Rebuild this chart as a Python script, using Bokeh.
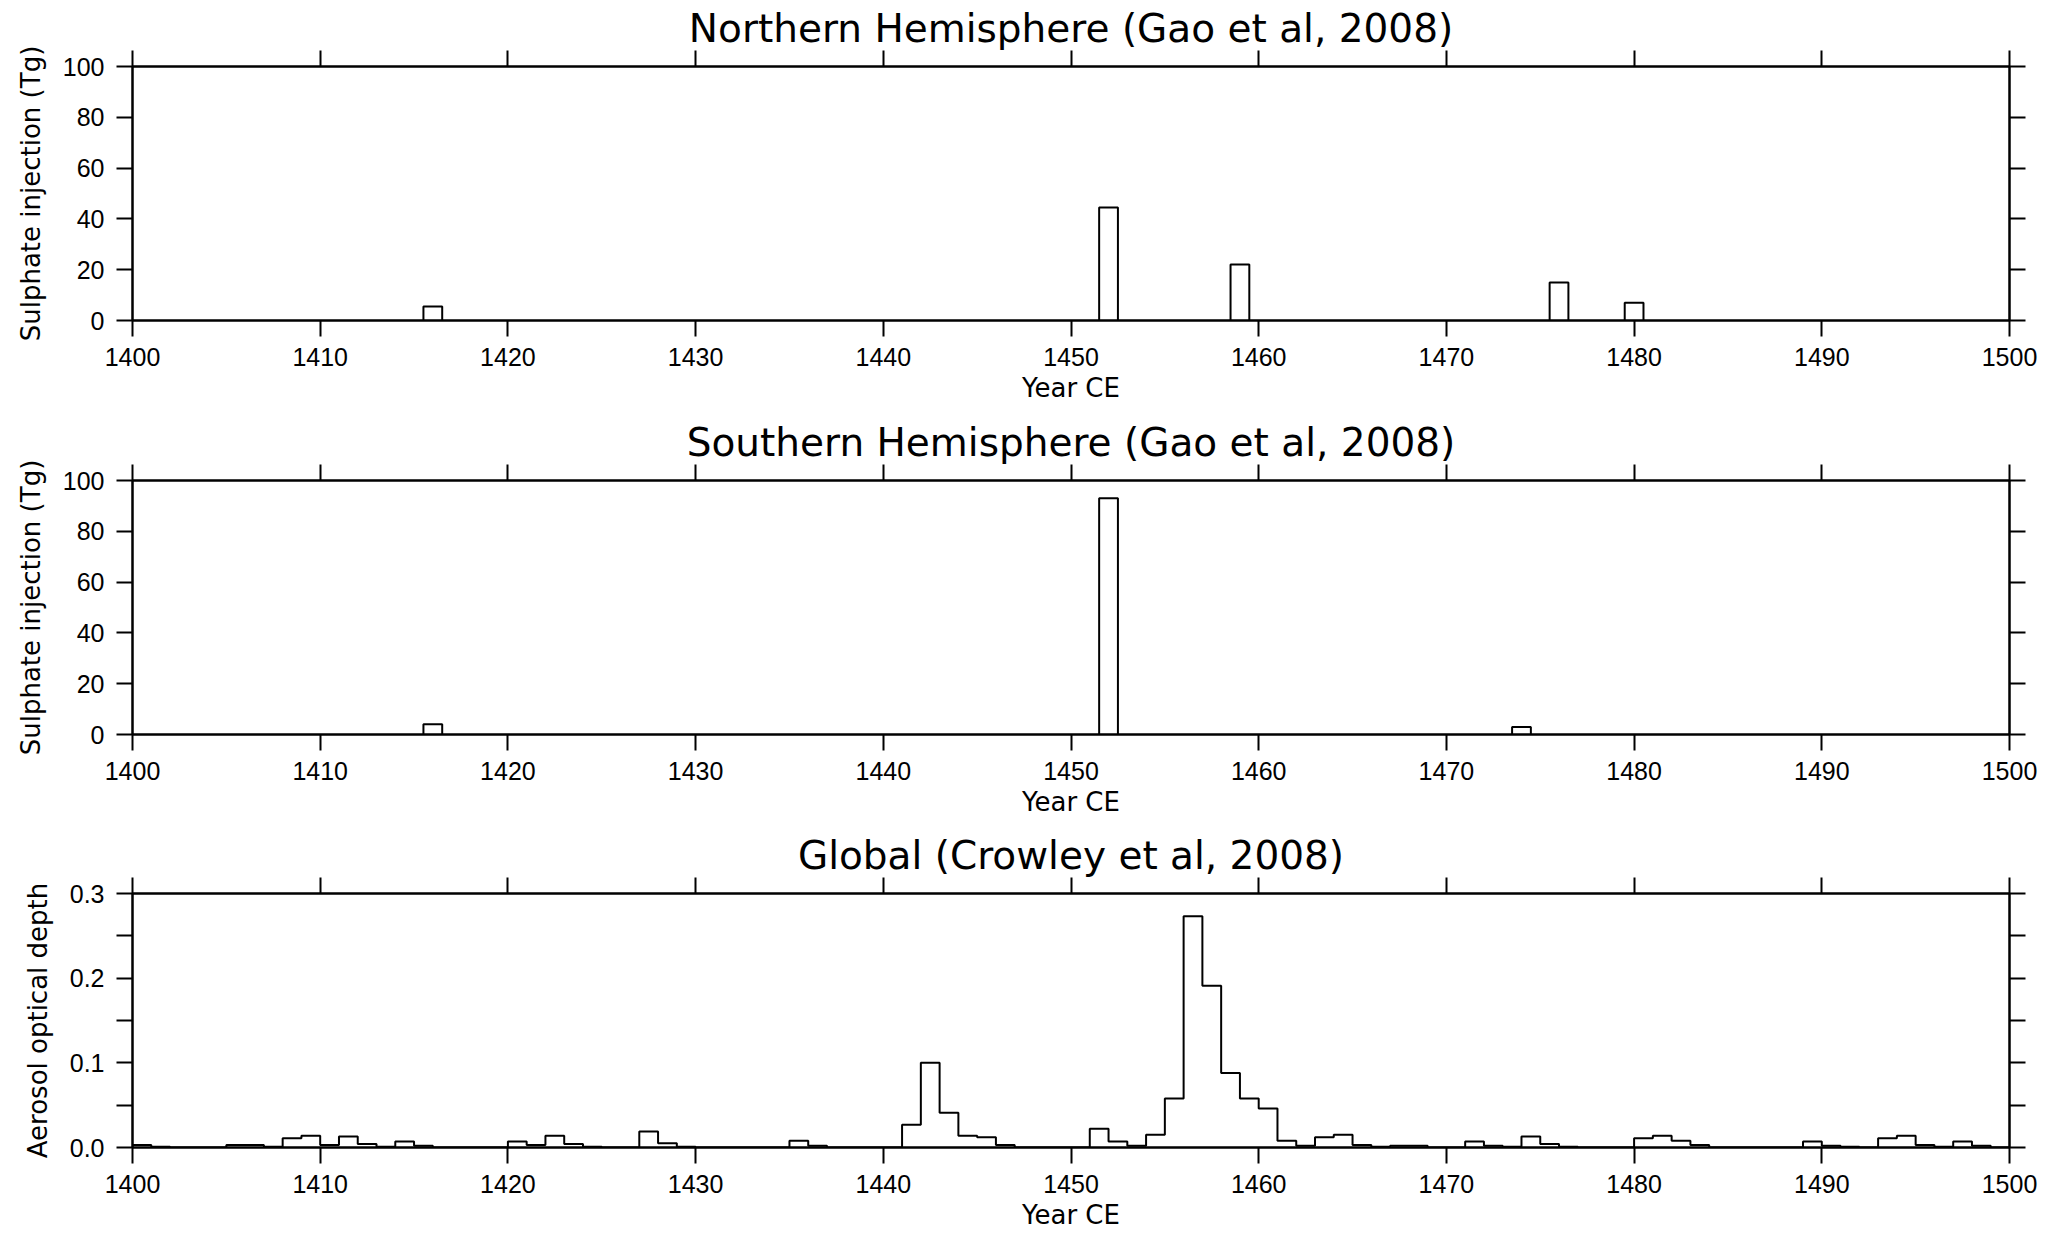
from bokeh.plotting import figure
from bokeh.models import LinearAxis, FixedTicker, Range1d, PrintfTickFormatter, ColumnDataSource
from bokeh.layouts import column
from bokeh.embed import file_html
from bokeh.resources import INLINE

# ---------------- data ----------------
x_ticks = [1400, 1410, 1420, 1430, 1440, 1450, 1460, 1470, 1480, 1490, 1500]

nh_years = [1416, 1452, 1459, 1476, 1480]
nh_sulphate = [5.5, 44.5, 22.0, 15.0, 7.0]

sh_years = [1416, 1452, 1474]
sh_sulphate = [4.0, 93.0, 3.0]

sulphate_ticks = [0, 20, 40, 60, 80, 100]
aod_ticks = [0.0, 0.1, 0.2, 0.3]
aod_minor_ticks = [0.05, 0.15, 0.25]

aod_start_year = 1400
aod_1400s = [0.003, 0.001, 0.0, 0.0, 0.0, 0.003, 0.003, 0.001, 0.011, 0.014]
aod_1410s = [0.003, 0.013, 0.004, 0.001, 0.007, 0.002, 0.0, 0.0, 0.0, 0.0]
aod_1420s = [0.007, 0.003, 0.014, 0.004, 0.001, 0.0, 0.0, 0.019, 0.005, 0.001]
aod_1430s = [0.0, 0.0, 0.0, 0.0, 0.0, 0.008, 0.002, 0.0, 0.0, 0.0]
aod_1440s = [0.0, 0.027, 0.100, 0.041, 0.014, 0.012, 0.003, 0.0, 0.0, 0.0]
aod_1450s = [0.0, 0.022, 0.007, 0.002, 0.015, 0.058, 0.273, 0.191, 0.088, 0.058]
aod_1460s = [0.046, 0.008, 0.002, 0.012, 0.015, 0.003, 0.001, 0.002, 0.002, 0.0]
aod_1470s = [0.0, 0.007, 0.002, 0.001, 0.013, 0.004, 0.001, 0.0, 0.0, 0.0]
aod_1480s = [0.011, 0.014, 0.008, 0.003, 0.0, 0.0, 0.0, 0.0, 0.0, 0.007]
aod_1490s = [0.002, 0.001, 0.0, 0.011, 0.014, 0.003, 0.001, 0.007, 0.002, 0.0]

aod = (aod_1400s + aod_1410s + aod_1420s + aod_1430s + aod_1440s +
       aod_1450s + aod_1460s + aod_1470s + aod_1480s + aod_1490s)
aod_edges = [aod_start_year + i for i in range(len(aod) + 1)]
aod_steps = aod + [aod[-1]]

# ---------------- style ----------------
TICK_FONT = "Liberation Sans"
LABEL_FONT = "DejaVu Sans"
TITLE_FONT = "DejaVu Sans"
LW = 2


def style_axis(ax, show_labels=True):
    ax.axis_line_width = LW
    ax.axis_line_color = "black"
    ax.major_tick_line_width = LW
    ax.major_tick_line_color = "black"
    ax.minor_tick_line_width = LW
    ax.minor_tick_line_color = "black"
    ax.major_tick_out = 16
    ax.major_tick_in = 0
    ax.minor_tick_out = 16
    ax.minor_tick_in = 0
    ax.major_label_text_font = TICK_FONT
    ax.major_label_text_font_size = "25px"
    ax.major_label_text_color = "black"
    ax.axis_label_text_font = LABEL_FONT
    ax.axis_label_text_font_size = "26px"
    ax.axis_label_text_font_style = "normal"
    ax.axis_label_text_color = "black"
    if not show_labels:
        ax.major_label_text_font_size = "0px"
        ax.major_label_text_color = None
        ax.major_label_standoff = 0


def make_panel(height, bottom_border, title, ylabel, yrange, yticks, yminor, yfmt=None):
    p = figure(width=2071, height=height,
               x_range=Range1d(1400, 1500), y_range=Range1d(*yrange),
               output_backend="svg", toolbar_location=None,
               x_axis_location=None, y_axis_location=None,
               min_border_left=132, min_border_right=62,
               min_border_top=66, min_border_bottom=bottom_border)
    p.grid.visible = False
    p.outline_line_color = "black"
    p.outline_line_width = LW
    p.background_fill_color = "white"
    p.border_fill_color = "white"

    p.title.text = title
    p.title.align = "center"
    p.title.text_font = TITLE_FONT
    p.title.text_font_size = "39px"
    p.title.text_font_style = "normal"
    p.title.text_color = "black"
    p.title.standoff = 0

    xt = FixedTicker(ticks=x_ticks, minor_ticks=[])
    yt = FixedTicker(ticks=yticks, minor_ticks=yminor)

    bottom = LinearAxis(ticker=xt, axis_label="Year CE")
    style_axis(bottom)
    bottom.major_label_standoff = 11
    bottom.axis_label_standoff = 4
    p.add_layout(bottom, "below")

    top = LinearAxis(ticker=FixedTicker(ticks=x_ticks, minor_ticks=[]))
    style_axis(top, show_labels=False)
    p.add_layout(top, "above")

    left = LinearAxis(ticker=yt, axis_label=ylabel)
    style_axis(left)
    left.major_label_standoff = 12
    left.axis_label_standoff = 14
    if yfmt is not None:
        left.formatter = PrintfTickFormatter(format=yfmt)
    p.add_layout(left, "left")

    right = LinearAxis(ticker=FixedTicker(ticks=yticks, minor_ticks=yminor))
    style_axis(right, show_labels=False)
    p.add_layout(right, "right")
    return p


p1 = make_panel(414, 94, "Northern Hemisphere (Gao et al, 2008)", "Sulphate injection (Tg)",
                (0, 100), sulphate_ticks, [])
p1.vbar(x=nh_years, top=nh_sulphate, width=1.0, bottom=0,
        fill_color="white", line_color="black", line_width=LW)

p2 = make_panel(413, 93, "Southern Hemisphere (Gao et al, 2008)", "Sulphate injection (Tg)",
                (0, 100), sulphate_ticks, [])
p2.vbar(x=sh_years, top=sh_sulphate, width=1.0, bottom=0,
        fill_color="white", line_color="black", line_width=LW)

p3 = make_panel(406, 86, "Global (Crowley et al, 2008)", "Aerosol optical depth",
                (0, 0.3), aod_ticks, aod_minor_ticks, yfmt="%.1f")
src = ColumnDataSource(dict(x=aod_edges, y=aod_steps))
p3.step(x="x", y="y", source=src, mode="after", line_color="black", line_width=LW)

layout = column(p1, p2, p3, spacing=0)
open("out.html", "w").write(file_html(layout, INLINE))
